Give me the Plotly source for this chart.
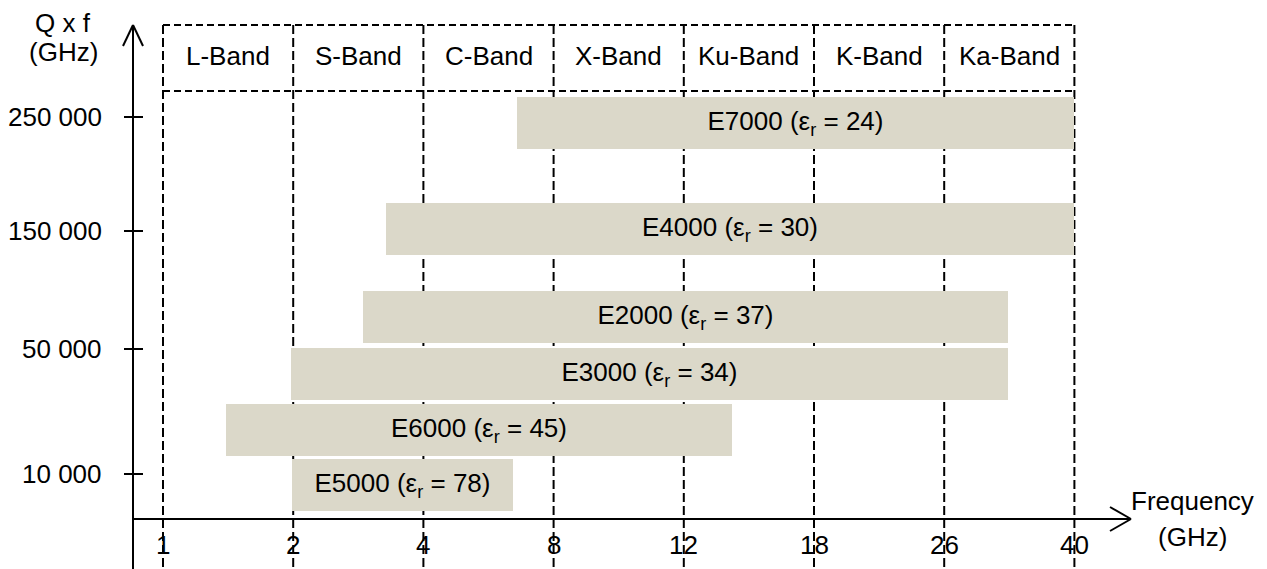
import numpy as np
import plotly.graph_objects as go

# ---------------- data ----------------
freq_ticks = [1, 2, 4, 8, 12, 18, 26, 40]                      # GHz
bands = ["L-Band", "S-Band", "C-Band", "X-Band", "Ku-Band", "K-Band", "Ka-Band"]
qf_ticks = [10000, 50000, 150000, 250000]                       # Q x f (GHz)
qf_tick_text = ["10 000", "50 000", "150 000", "250 000"]

materials = ["E7000", "E4000", "E2000", "E3000", "E6000", "E5000"]
eps_r = [24, 30, 37, 34, 45, 78]
f_start = [6.88, 3.43, 3.07, 1.98, 1.48, 1.99]                  # GHz
f_stop = [40, 40, 32.9, 32.9, 14.2, 6.75]                       # GHz
qf_value = [245000, 152000, 77000, 42000, 24000, 6500]          # Q x f (GHz)

# ---------------- layout helpers ----------------
W, H = 1267, 569
X0_PX, STEP_PX = 163, 130.2          # pixel of first frequency tick, spacing
AXIS_PX = 519                        # pixel row of x axis
qf_tick_level = [45, 170, 288, 402]  # display level (px above x axis) of each Q x f tick
BAR_H = 52
FONT = "Liberation Sans, Arial, sans-serif"
FS = 26
BAR_COLOR = "#DBD8C9"


def f2x(f):
    return float(np.interp(f, freq_ticks, range(len(freq_ticks))))


def qf2y(q):
    # piecewise linear warp through the tick positions, linear extrapolation
    xs, ys = qf_ticks, qf_tick_level
    if q < xs[0]:
        s = (ys[1] - ys[0]) / (xs[1] - xs[0])
        return ys[0] + (q - xs[0]) * s
    if q > xs[-1]:
        s = (ys[-1] - ys[-2]) / (xs[-1] - xs[-2])
        return ys[-1] + (q - xs[-1]) * s
    return float(np.interp(q, xs, ys))


def px2x(px):
    return (px - X0_PX) / STEP_PX


def py2y(py):
    return AXIS_PX - py


fig = go.Figure()

# bars
xs0 = [f2x(a) for a in f_start]
xs1 = [f2x(b) for b in f_stop]
fig.add_trace(go.Bar(
    orientation="h",
    base=xs0,
    x=[b - a for a, b in zip(xs0, xs1)],
    y=[qf2y(q) for q in qf_value],
    width=BAR_H,
    marker=dict(color=BAR_COLOR, line=dict(width=0)),
    text=[f"{m} (ε<sub>r</sub> = {e})" for m, e in zip(materials, eps_r)],
    textposition="inside",
    insidetextanchor="middle",
    textangle=0,
    textfont=dict(family=FONT, size=FS, color="black"),
    constraintext="none",
    hoverinfo="skip",
))

shapes = []
top_y = py2y(25)
hdr_y = py2y(91)
bot_y = py2y(H + 5)
# vertical dashed grid lines
for i, f in enumerate(freq_ticks):
    shapes.append(dict(type="line", xref="x", yref="y", x0=f2x(f), x1=f2x(f),
                       y0=top_y, y1=bot_y, layer="below",
                       line=dict(color="black", width=2, dash="9px,4px")))
# horizontal dashed header lines
for yy in (top_y, hdr_y):
    shapes.append(dict(type="line", xref="x", yref="y", x0=0, x1=len(freq_ticks) - 1,
                       y0=yy, y1=yy, layer="below",
                       line=dict(color="black", width=2, dash="7px,4px")))

ax_x = px2x(133)
# y axis with arrow
shapes.append(dict(type="line", xref="x", yref="y", x0=ax_x, x1=ax_x,
                   y0=bot_y, y1=py2y(25), line=dict(color="black", width=2)))
for dx in (-10, 10):
    shapes.append(dict(type="line", xref="x", yref="y", x0=ax_x, y0=py2y(25),
                       x1=px2x(133 + dx), y1=py2y(46), line=dict(color="black", width=2)))
# x axis with arrow
shapes.append(dict(type="line", xref="x", yref="y", x0=ax_x, x1=px2x(1131),
                   y0=0, y1=0, line=dict(color="black", width=2)))
for dy in (-12, 12):
    shapes.append(dict(type="line", xref="x", yref="y", x0=px2x(1131), y0=0,
                       x1=px2x(1110), y1=dy, line=dict(color="black", width=2)))
# y tick marks
for q in qf_ticks:
    shapes.append(dict(type="line", xref="x", yref="y", x0=px2x(124), x1=px2x(143),
                       y0=qf2y(q), y1=qf2y(q), line=dict(color="black", width=2)))

ann = []
txt = dict(family=FONT, size=FS, color="black")
# band labels
for i, b in enumerate(bands):
    ann.append(dict(x=i + 0.5, y=py2y(56), text=b, showarrow=False,
                    xanchor="center", yanchor="middle", font=txt))
# frequency tick labels
for f in freq_ticks:
    ann.append(dict(x=f2x(f), y=py2y(545), text=str(f), showarrow=False,
                    xanchor="center", yanchor="middle", font=txt))
# Q x f tick labels
for q, t in zip(qf_ticks, qf_tick_text):
    ann.append(dict(x=px2x(104), y=qf2y(q), text=t, showarrow=False,
                    xanchor="right", yanchor="middle", font=txt))
# axis titles
ann.append(dict(x=px2x(63), y=py2y(23), text="Q x f", showarrow=False,
                xanchor="center", yanchor="middle", font=txt))
ann.append(dict(x=px2x(63), y=py2y(52), text="(GHz)", showarrow=False,
                xanchor="center", yanchor="middle", font=txt))
ann.append(dict(x=px2x(1192), y=py2y(501), text="Frequency", showarrow=False,
                xanchor="center", yanchor="middle", font=txt))
ann.append(dict(x=px2x(1192), y=py2y(537), text="(GHz)", showarrow=False,
                xanchor="center", yanchor="middle", font=txt))

fig.update_layout(
    width=W, height=H,
    margin=dict(l=0, r=0, t=0, b=0),
    paper_bgcolor="white", plot_bgcolor="white",
    showlegend=False,
    xaxis=dict(range=[px2x(0), px2x(W)], visible=False, fixedrange=True),
    yaxis=dict(range=[py2y(H), py2y(0)], visible=False, fixedrange=True),
    shapes=shapes,
    annotations=ann,
    bargap=0,
)

fig.write_html(
    "out.html",
    config={"displayModeBar": False},
    post_script="document.body.style.margin='0';document.body.style.overflow='hidden';",
)
